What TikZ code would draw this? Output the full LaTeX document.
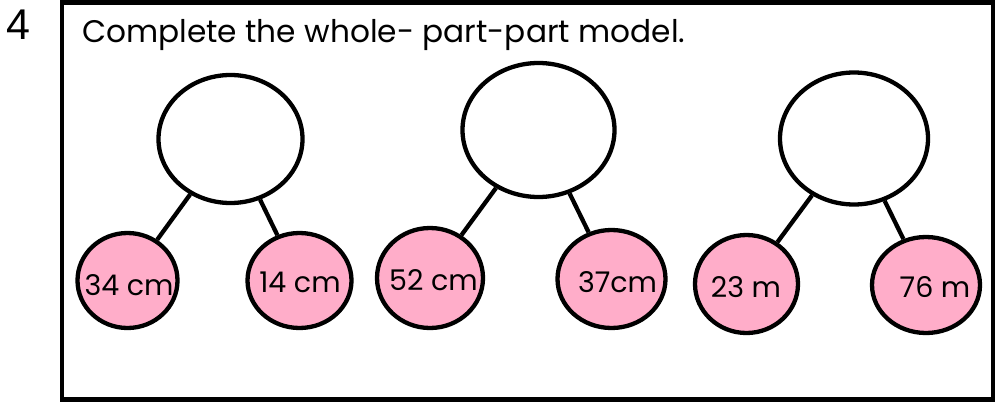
\documentclass[tikz,border=0pt]{standalone}
\usepackage{fontspec}
\setmainfont{Poppins}
\newfontfamily\numfont{Liberation Sans}
\usetikzlibrary{shapes.geometric}
\definecolor{partpink}{RGB}{255,173,201}
\tikzset{
  whole/.style={draw=black, line width=4.3pt, ellipse, fill=white, inner sep=0pt},
  part/.style={draw=black, line width=4.3pt, ellipse, fill=partpink, inner sep=0pt},
  link/.style={draw=black, line width=4.3pt},
  qtext/.style={inner sep=0pt, font=\fontsize{31.2}{36}\selectfont},
  ptext/.style={inner sep=0pt, anchor=base, font=\fontsize{28.5}{32}\selectfont},
}
\begin{document}
\begin{tikzpicture}[x=1pt, y=-1pt]
  \useasboundingbox (0,0) rectangle (1000,404);
  % outer frame of the exercise
  \draw[line width=4.5pt] (62,2.5) rectangle (993,399.5);
  % question number and instruction
  \node[inner sep=0pt, anchor=base west, font=\numfont\fontsize{43}{48}\selectfont] (num) at (6,40) {4};
  \node[qtext, anchor=base west] (title) at (82,43) {Complete the whole- part-part model.};

  % first model
  \node[whole, minimum width=144pt, minimum height=128pt] (w1) at (230.5,139) {};
  \node[part, minimum width=100pt, minimum height=95pt] (p1a) at (127.5,280.5) {};
  \node[part, minimum width=104pt, minimum height=95pt] (p1b) at (299.5,280.5) {};
  \draw[link] (w1) -- (p1a);
  \draw[link] (w1) -- (p1b);
  \node[ptext] (l1a) at (129,295) {34 cm};
  \node[ptext] (l1b) at (300,292) {14 cm};

  % second model
  \node[whole, minimum width=152pt, minimum height=134pt] (w2) at (538.5,130) {};
  \node[part, minimum width=106pt, minimum height=100pt] (p2a) at (430,278) {};
  \node[part, minimum width=108pt, minimum height=98pt] (p2b) at (611.5,279) {};
  \draw[link] (w2) -- (p2a);
  \draw[link] (w2) -- (p2b);
  \node[ptext] (l2a) at (433.5,290) {52 cm};
  \node[ptext] (l2b) at (617.5,292) {37cm};

  % third model
  \node[whole, minimum width=148pt, minimum height=132pt] (w3) at (854,138.5) {};
  \node[part, minimum width=103pt, minimum height=98pt] (p3a) at (746.5,284) {};
  \node[part, minimum width=108pt, minimum height=96pt] (p3b) at (926,285) {};
  \draw[link] (w3) -- (p3a);
  \draw[link] (w3) -- (p3b);
  \node[ptext] (l3a) at (746,297) {23 m};
  \node[ptext] (l3b) at (935,297) {76 m};
\end{tikzpicture}
\end{document}
